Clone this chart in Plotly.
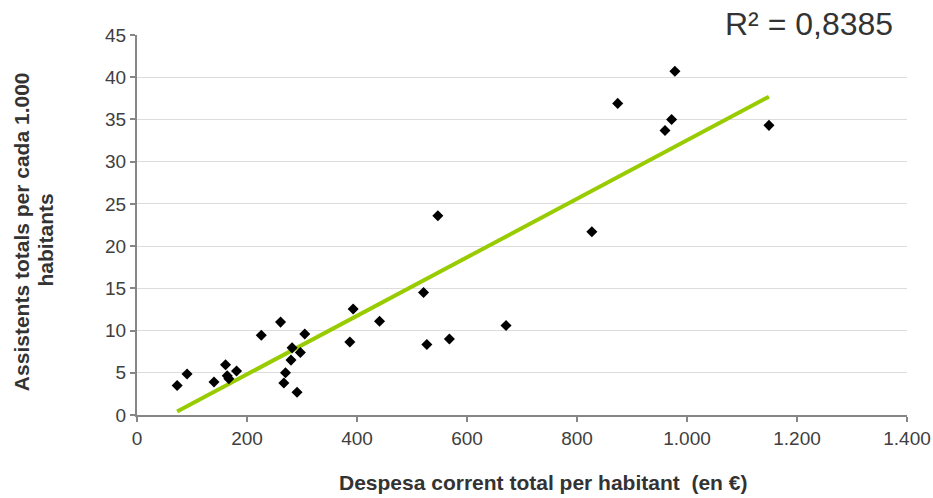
import numpy as np
import plotly.graph_objects as go

# Despesa corrent total per habitant (en €)
despesa = [73, 91, 140, 161, 164, 167, 181, 226, 261, 267, 270, 280, 282, 291, 297,
           305, 387, 393, 441, 521, 527, 547, 568, 671, 827, 874, 960, 972, 978, 1149]
# Assistents totals per cada 1.000 habitants
assistents = [3.5, 4.85, 3.9, 5.95, 4.65, 4.3, 5.2, 9.45, 11.0, 3.8, 5.0, 6.5, 7.95, 2.7, 7.4,
              9.6, 8.65, 12.55, 11.1, 14.5, 8.35, 23.6, 9.0, 10.6, 21.7, 36.9, 33.7, 35.0, 40.7, 34.3]

r2_label = "R² = 0,8385"
x_title = "Despesa corrent total per habitant  (en €)"
y_title_lines = ["Assistents totals per cada 1.000", "habitants"]
x_ticks = [0, 200, 400, 600, 800, 1000, 1200, 1400]
y_ticks = [0, 5, 10, 15, 20, 25, 30, 35, 40, 45]

slope, intercept = np.polyfit(despesa, assistents, 1)
tx = np.array([min(despesa), max(despesa)])
ty = slope * tx + intercept

fig = go.Figure()
fig.add_trace(go.Scatter(
    x=tx, y=ty, mode="lines",
    line=dict(color="#99cc00", width=4),
    hoverinfo="skip", showlegend=False))
fig.add_trace(go.Scatter(
    x=despesa, y=assistents, mode="markers",
    marker=dict(symbol="diamond", size=8.5, color="black"),
    showlegend=False))

FAM = "Liberation Sans, Arial, sans-serif"
axis_font = dict(family=FAM, size=19, color="#404040")

fig.update_layout(
    width=933, height=498,
    margin=dict(l=136.5, r=26, t=35, b=82.5, autoexpand=False),
    paper_bgcolor="white", plot_bgcolor="white",
    separators=",.",
    font=axis_font,
    xaxis=dict(range=[0, 1400], tickvals=x_ticks, tickformat=",d",
               showgrid=False, zeroline=False, automargin=False,
               showline=True, linecolor="#868686", linewidth=2,
               ticks="outside", ticklen=5, tickcolor="#868686", tickwidth=1.5,
               tickfont=axis_font),
    yaxis=dict(range=[0, 45], tickvals=y_ticks,
               showgrid=True, gridcolor="#dcdcdc", gridwidth=1, zeroline=False,
               automargin=False,
               showline=True, linecolor="#868686", linewidth=2,
               ticks="outside", ticklen=5, tickcolor="#868686", tickwidth=1.5,
               tickfont=axis_font),
    annotations=[
        dict(text=r2_label, xref="paper", yref="paper", x=0.9844, y=1.0,
             xanchor="right", yanchor="middle", yshift=11, showarrow=False,
             font=dict(family=FAM, size=32, color="#333333")),
        dict(text="<b>" + x_title + "</b>",
             xref="paper", yref="paper", x=0.5276, y=0, yshift=-67,
             xanchor="center", yanchor="middle", showarrow=False,
             font=dict(family=FAM, size=21, color="#333333")),
        dict(text="<b>" + y_title_lines[0] + "</b>",
             xref="paper", yref="paper", x=0, xshift=-114.7, y=0.482,
             xanchor="center", yanchor="middle", textangle=-90, showarrow=False,
             font=dict(family=FAM, size=21, color="#333333")),
        dict(text="<b>" + y_title_lines[1] + "</b>",
             xref="paper", yref="paper", x=0, xshift=-91.6, y=0.46,
             xanchor="center", yanchor="middle", textangle=-90, showarrow=False,
             font=dict(family=FAM, size=21, color="#333333")),
    ],
)

fig.write_html("out.html",
               config={"displayModeBar": False},
               post_script="document.body.style.margin='0';document.body.style.overflow='hidden';")
